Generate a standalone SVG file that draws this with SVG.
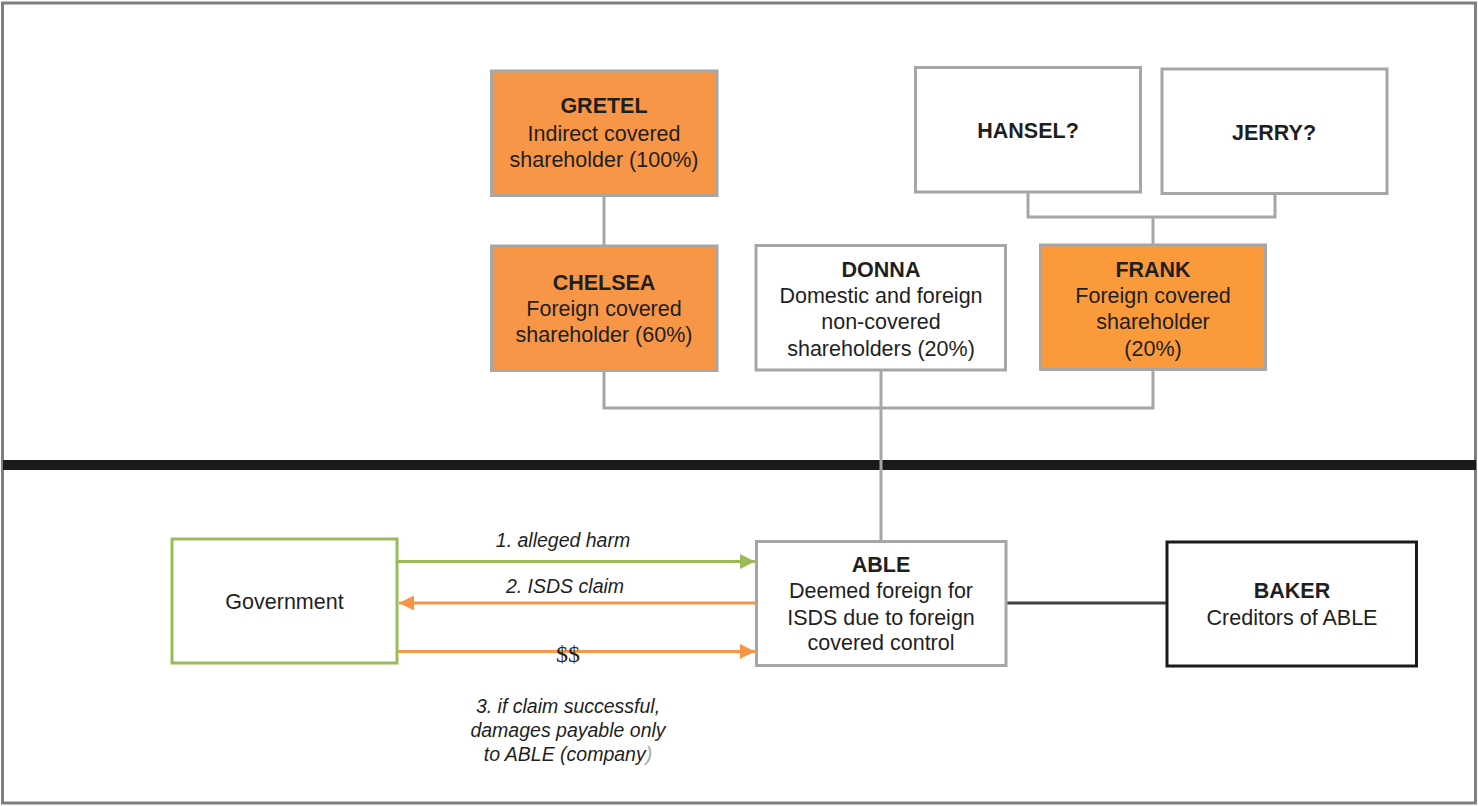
<svg xmlns="http://www.w3.org/2000/svg" width="1478" height="806" viewBox="0 0 1478 806">
<defs>
<style>
.box{stroke:#a6a6a6;stroke-width:3}
.org{fill:#f79646}
.org2{fill:#fa9a3a}
.wht{fill:#ffffff}
.t{font-family:"Liberation Sans",Arial,sans-serif;font-size:21.5px;fill:#1f1f1f;text-anchor:middle}
.b{font-weight:bold}
.lab{font-family:"Liberation Sans",Arial,sans-serif;font-size:19.5px;font-style:italic;fill:#1f1f1f;text-anchor:middle}
.conn{fill:none;stroke:#a6a6a6;stroke-width:3}
</style>
<marker id="ag" viewBox="0 0 10 10" refX="10" refY="5" markerWidth="5" markerHeight="5" orient="auto" markerUnits="strokeWidth"><path d="M0,0 L10,5 L0,10 z" fill="#9bbb59"/></marker>
<marker id="ao" viewBox="0 0 10 10" refX="10" refY="5" markerWidth="5" markerHeight="5" orient="auto" markerUnits="strokeWidth"><path d="M0,0 L10,5 L0,10 z" fill="#f79646"/></marker>
</defs>
<rect x="0" y="0" width="1478" height="806" fill="#ffffff"/>
<rect x="2.5" y="3" width="1473" height="800" fill="none" stroke="#7f7f7f" stroke-width="3"/>
<rect x="3" y="460" width="1473" height="10" fill="#1a1a1a"/>

<g id="connectors">
<line class="conn" x1="604" y1="196" x2="604" y2="245"/>
<polyline class="conn" points="1028,192 1028,217 1275,217 1275,194"/>
<line class="conn" x1="1153" y1="217" x2="1153" y2="244"/>
<polyline class="conn" points="604,371 604,408 1153,408 1153,370"/>
<line class="conn" x1="881" y1="370" x2="881" y2="541"/>
<line x1="1006" y1="603" x2="1167" y2="603" stroke="#404040" stroke-width="3"/>
<line x1="398" y1="561.5" x2="755" y2="561.5" stroke="#9bbb59" stroke-width="3" marker-end="url(#ag)"/>
<line x1="755" y1="603" x2="399" y2="603" stroke="#f79646" stroke-width="3" marker-end="url(#ao)"/>
<line x1="398" y1="651.5" x2="755" y2="651.5" stroke="#f79646" stroke-width="3" marker-end="url(#ao)"/>
<text class="lab" x="563" y="547">1. alleged harm</text>
<text class="lab" x="565" y="593">2. ISDS claim</text>
<text x="568" y="662" font-family="'Liberation Serif','Times New Roman',serif" font-size="24" fill="#1f1f1f" text-anchor="middle">$$</text>
<text class="lab" x="568" y="713">3. if claim successful,</text>
<text class="lab" x="568" y="737">damages payable only</text>
<text class="lab" x="568" y="761">to ABLE (company<tspan fill="#a6a6a6">)</tspan></text>
</g>

<g id="gretel">
<rect class="box org" x="491.5" y="71" width="225.5" height="124.5"/>
<text class="t b" x="604" y="113">GRETEL</text>
<text class="t" x="604" y="141">Indirect covered</text>
<text class="t" x="604" y="167">shareholder (100%)</text>
</g>
<g id="chelsea">
<rect class="box org" x="491.5" y="246" width="225.5" height="124.5"/>
<text class="t b" x="604" y="290">CHELSEA</text>
<text class="t" x="604" y="316">Foreign covered</text>
<text class="t" x="604" y="342">shareholder (60%)</text>
</g>
<g id="donna">
<rect class="box wht" x="756" y="245.5" width="249.5" height="124.5"/>
<text class="t b" x="881" y="277">DONNA</text>
<text class="t" x="881" y="303">Domestic and foreign</text>
<text class="t" x="881" y="329">non-covered</text>
<text class="t" x="881" y="356">shareholders (20%)</text>
</g>
<g id="frank">
<rect class="box org2" x="1040.5" y="245" width="225" height="124.5"/>
<text class="t b" x="1153" y="277">FRANK</text>
<text class="t" x="1153" y="303">Foreign covered</text>
<text class="t" x="1153" y="329">shareholder</text>
<text class="t" x="1153" y="356">(20%)</text>
</g>
<g id="hansel">
<rect class="box wht" x="915.5" y="67.5" width="225" height="124.5"/>
<text class="t b" x="1028" y="138">HANSEL?</text>
</g>
<g id="jerry">
<rect class="box wht" x="1162" y="69" width="225" height="124.5"/>
<text class="t b" x="1274" y="140">JERRY?</text>
</g>
<g id="government">
<rect x="172" y="539" width="225" height="124" fill="#ffffff" stroke="#9bbb59" stroke-width="3"/>
<text class="t" x="284.5" y="609">Government</text>
</g>
<g id="able">
<rect class="box wht" x="756.5" y="541.5" width="249.5" height="124"/>
<text class="t b" x="881" y="572">ABLE</text>
<text class="t" x="881" y="598">Deemed foreign for</text>
<text class="t" x="881" y="625">ISDS due to foreign</text>
<text class="t" x="881" y="650">covered control</text>
</g>
<g id="baker">
<rect x="1167" y="542" width="249.5" height="124" fill="#ffffff" stroke="#1a1a1a" stroke-width="3"/>
<text class="t b" x="1292" y="598">BAKER</text>
<text class="t" x="1292" y="625">Creditors of ABLE</text>
</g>
</svg>
